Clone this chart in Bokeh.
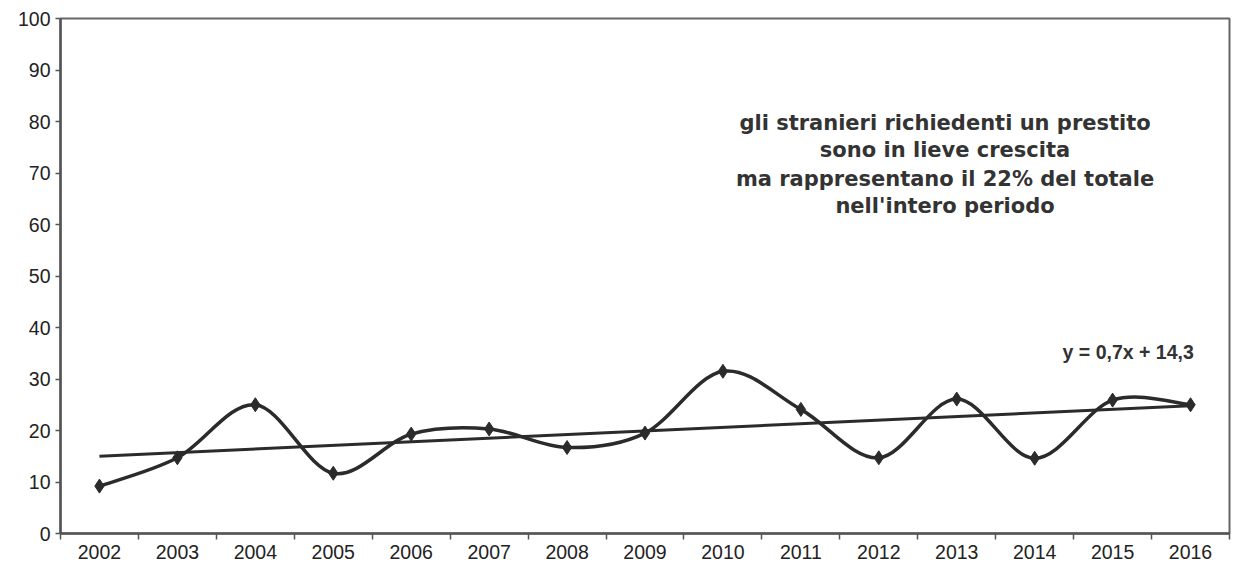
import numpy as np
from bokeh.plotting import figure
from bokeh.models import FixedTicker, Label, Range1d
from bokeh.embed import file_html
from bokeh.resources import INLINE

# ---- data -----------------------------------------------------------------
years = [2002, 2003, 2004, 2005, 2006, 2007, 2008, 2009, 2010,
         2011, 2012, 2013, 2014, 2015, 2016]
values = [9.2, 14.7, 25.0, 11.7, 19.3, 20.3, 16.7, 19.5, 31.5,
          24.1, 14.7, 26.1, 14.6, 25.9, 25.0]
trend_slope = 0.7
trend_intercept = 14.3
trend_label = "y = 0,7x + 14,3"
y_ticks = [0, 10, 20, 30, 40, 50, 60, 70, 80, 90, 100]
note_lines = [
    "gli stranieri richiedenti un prestito",
    "sono in lieve crescita",
    "ma rappresentano il 22% del totale",
    "nell'intero periodo",
]

INK = "#2b2b2b"
AXIS = "#555555"
FONT = "Liberation Sans"

p = figure(width=1232, height=566, output_backend="svg", toolbar_location=None,
           x_range=Range1d(years[0] - 0.5, years[-1] + 0.5),
           y_range=Range1d(0, 100),
           min_border_left=60, min_border_right=3, min_border_top=18,
           min_border_bottom=33)
p.background_fill_color = "white"
p.border_fill_color = "white"
p.outline_line_color = "#666666"
p.outline_line_width = 2
p.xgrid.visible = False
p.ygrid.visible = False

# ---- axes -----------------------------------------------------------------
boundaries = [y - 0.5 for y in years] + [years[-1] + 0.5]
p.xaxis.ticker = FixedTicker(ticks=years, minor_ticks=boundaries)
p.xaxis.major_label_overrides = {y: str(y) for y in years}
p.xaxis.major_tick_out = 0
p.xaxis.major_tick_in = 0
p.xaxis.minor_tick_out = 6
p.xaxis.minor_tick_in = 0
p.xaxis.minor_tick_line_color = AXIS
p.xaxis.minor_tick_line_width = 1.5
p.xaxis.major_label_standoff = 5

p.yaxis.ticker = FixedTicker(ticks=y_ticks)
p.yaxis.major_tick_out = 5
p.yaxis.major_tick_in = 0
p.yaxis.minor_tick_out = 0
p.yaxis.minor_tick_in = 0
p.yaxis.major_tick_line_color = AXIS
p.yaxis.major_tick_line_width = 1.5
p.yaxis.major_label_standoff = 5

for ax in (p.xaxis, p.yaxis):
    ax.axis_line_color = AXIS
    ax.axis_line_width = 2.5
    ax.major_label_text_font = FONT
    ax.major_label_text_font_size = "19.5px"
    ax.major_label_text_color = "#222222"

# ---- smoothed series (Bezier segments through the data points) ------------
xs = np.array(years, dtype=float)
ys = np.array(values, dtype=float)
n = len(xs)
x0, y0, x1, y1, cx0, cy0, cx1, cy1 = ([] for _ in range(8))
for i in range(n - 1):
    im = max(i - 1, 0)
    ip = min(i + 2, n - 1)
    x0.append(xs[i]); y0.append(ys[i])
    x1.append(xs[i + 1]); y1.append(ys[i + 1])
    cx0.append(xs[i] + (xs[i + 1] - xs[im]) / 6)
    cy0.append(ys[i] + (ys[i + 1] - ys[im]) / 6)
    cx1.append(xs[i + 1] - (xs[ip] - xs[i]) / 6)
    cy1.append(ys[i + 1] - (ys[ip] - ys[i]) / 6)
p.bezier(x0=x0, y0=y0, x1=x1, y1=y1, cx0=cx0, cy0=cy0, cx1=cx1, cy1=cy1,
         line_color=INK, line_width=3.5)

# ---- linear trend (from the printed equation) ------------------------------
idx = np.arange(1, n + 1)
trend = trend_slope * idx + trend_intercept
p.line(x=[years[0], years[-1]], y=[trend[0], trend[-1]],
       line_color=INK, line_width=3)

p.scatter(x=years, y=values, marker="diamond", size=14,
          fill_color=INK, line_color=INK)

# ---- annotations -----------------------------------------------------------
note_y = [79.8, 74.4, 68.9, 63.6]
for txt, yy in zip(note_lines, note_y):
    p.add_layout(Label(x=2012.85, y=yy, text=txt, text_align="center",
                       text_baseline="middle", text_font="DejaVu Sans",
                       text_font_style="bold", text_font_size="21px",
                       text_color="#333333"))

p.add_layout(Label(x=2015.2, y=35.2, text=trend_label, text_align="center",
                   text_baseline="middle", text_font=FONT,
                   text_font_style="bold", text_font_size="19.5px",
                   text_color="#333333"))

open("out.html", "w").write(file_html(p, INLINE))
